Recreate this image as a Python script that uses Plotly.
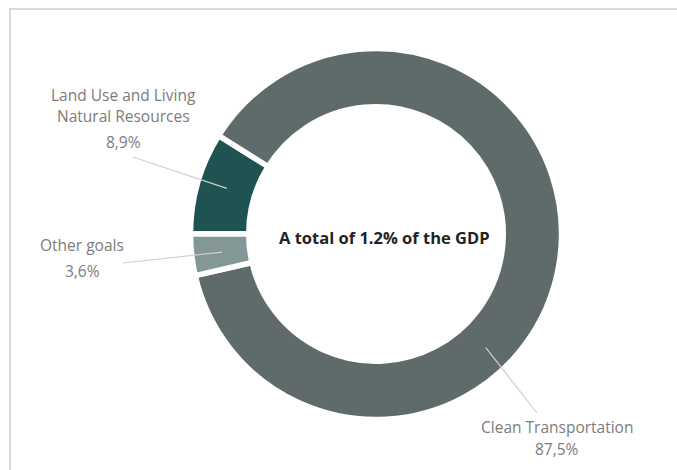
import math
import plotly.graph_objects as go

# Share of green spending by goal (percent of total)
goals = ["Land Use and Living Natural Resources", "Clean Transportation", "Other goals"]
shares = [8.9, 87.5, 3.6]
share_text = ["8,9%", "87,5%", "3,6%"]
colors = ["#1f5351", "#5f6b6a", "#839896"]
center_title = "A total of 1.2% of the GDP"

W, H = 677, 470
CX, CY, R = 376, 234, 185.5   # donut centre and outer radius in pixels
HOLE = 0.686


def px(x):
    return x / W


def py(y):
    return 1 - y / H


fig = go.Figure(
    go.Pie(
        labels=goals,
        values=shares,
        sort=False,
        direction="clockwise",
        rotation=270,
        hole=HOLE,
        marker=dict(colors=colors, line=dict(color="white", width=5.5)),
        textinfo="none",
        hoverinfo="label+percent",
        showlegend=False,
        domain=dict(x=[px(CX - R), px(CX + R)], y=[py(CY + R), py(CY - R)]),
    )
)

label_font = dict(family="Open Sans, sans-serif", size=15.5, color="#7c7c7c")
line_color = "#cfcfcf"

# callouts: text lines, centre x, line y positions, leader start, leader end angle (screen deg) and radius
callouts = [
    (["Land Use and Living", "Natural Resources", share_text[0]], 124, [95, 116, 142], (133, 157), 197, 156),
    (["Other goals", share_text[2]], 82, [245, 271], (123, 263), 173.3, 155),
    (["Clean Transportation", share_text[1]], 557, [427, 449], (537, 413), 46, 158),
]

shapes = []
annotations = []
for lines, lx, ys, (sx, sy), ang, rad in callouts:
    for t, y in zip(lines, ys):
        annotations.append(dict(
            text=t, x=px(lx), y=py(y), xref="paper", yref="paper",
            xanchor="center", yanchor="middle", showarrow=False, font=label_font,
        ))
    ex = CX + rad * math.cos(math.radians(ang))
    ey = CY + rad * math.sin(math.radians(ang))
    shapes.append(dict(
        type="line", xref="paper", yref="paper",
        x0=px(sx), y0=py(sy), x1=px(ex), y1=py(ey),
        line=dict(color=line_color, width=1.2),
    ))

annotations.append(dict(
    text="<b>" + center_title + "</b>", x=px(384), y=py(238),
    xref="paper", yref="paper", xanchor="center", yanchor="middle", showarrow=False,
    font=dict(family="Open Sans, sans-serif", size=16.5, color="#222222"),
))

# light frame around the figure
shapes.append(dict(
    type="rect", xref="paper", yref="paper",
    x0=px(10), y0=py(9), x1=px(W + 5), y1=py(H + 5),
    line=dict(color="#d9d9d9", width=2), fillcolor="rgba(0,0,0,0)", layer="below",
))

fig.update_layout(
    width=W, height=H, autosize=False,
    margin=dict(l=0, r=0, t=0, b=0),
    paper_bgcolor="white", plot_bgcolor="white",
    shapes=shapes, annotations=annotations,
)

fig.write_html("out.html")
